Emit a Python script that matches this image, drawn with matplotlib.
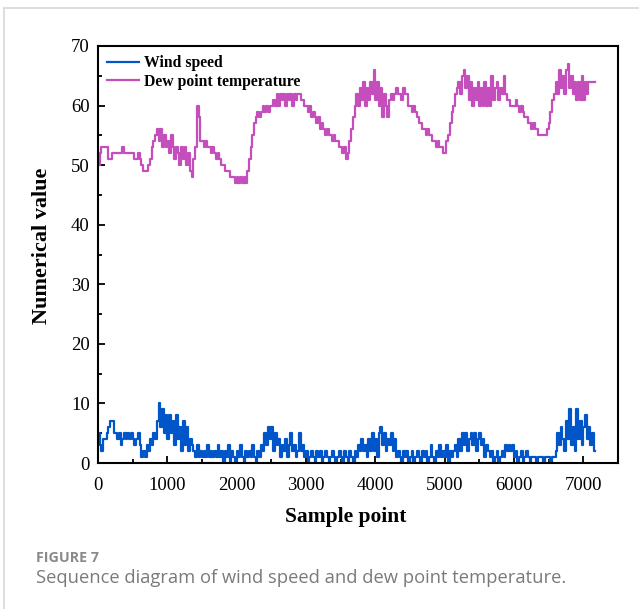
import numpy as np
import matplotlib
matplotlib.use("Agg")
import matplotlib.pyplot as plt
from matplotlib.lines import Line2D
from matplotlib.ticker import MultipleLocator

# Sample index of each reading (one value every 25 samples)
STEP = 25

# Dew point temperature readings, 20 per row (500 samples per row)
dew_point = [
    50, 52, 53, 53, 53, 53, 51, 51, 52, 52, 52, 52, 52, 52, 53, 52, 52, 52, 52, 52,
    52, 51, 51, 52, 51, 50, 49, 49, 49, 50, 51, 53, 54, 55, 56, 54, 56, 53, 55, 53,
    54, 52, 55, 53, 51, 53, 52, 50, 53, 51, 53, 50, 52, 49, 48, 51, 53, 60, 58, 54,
    54, 53, 54, 53, 53, 52, 53, 52, 51, 52, 51, 50, 50, 49, 49, 49, 48, 48, 48, 47,
    48, 47, 48, 47, 48, 47, 49, 51, 53, 55, 57, 58, 59, 58, 59, 60, 59, 60, 59, 60,
    60, 61, 60, 62, 60, 62, 61, 62, 60, 62, 61, 62, 60, 62, 61, 62, 62, 61, 61, 60,
    60, 59, 60, 58, 59, 58, 57, 58, 56, 57, 56, 55, 56, 55, 55, 54, 55, 54, 54, 53,
    53, 52, 53, 51, 52, 54, 56, 58, 60, 62, 60, 63, 61, 64, 60, 63, 61, 64, 62, 66,
    61, 64, 60, 63, 58, 62, 60, 58, 61, 62, 61, 62, 63, 62, 62, 61, 63, 62, 62, 60,
    60, 59, 60, 59, 58, 57, 57, 56, 56, 55, 56, 55, 55, 54, 54, 53, 54, 53, 53, 52,
    52, 54, 55, 57, 59, 60, 62, 63, 64, 62, 65, 66, 63, 65, 61, 64, 60, 63, 61, 64,
    60, 63, 60, 64, 60, 63, 60, 65, 61, 63, 64, 61, 63, 62, 65, 62, 61, 61, 60, 60,
    60, 61, 60, 59, 60, 59, 58, 58, 57, 57, 56, 57, 56, 56, 55, 55, 55, 55, 55, 56,
    57, 59, 61, 62, 64, 62, 66, 63, 65, 62, 66, 67, 63, 65, 62, 64, 61, 64, 61, 65,
    61, 64, 62, 64, 64, 64, 64, 64,
]

# Wind speed readings on the same sample grid
wind_speed = [
    5, 3, 2, 4, 4, 5, 6, 7, 7, 5, 5, 4, 5, 3, 4, 5, 4, 5, 4, 5,
    4, 3, 4, 5, 3, 1, 2, 1, 3, 2, 4, 3, 5, 4, 7, 10, 6, 9, 5, 8,
    4, 8, 5, 7, 3, 8, 4, 6, 2, 7, 3, 6, 2, 4, 3, 2, 1, 3, 1, 2,
    1, 2, 1, 3, 1, 2, 1, 2, 1, 3, 1, 2, 0, 2, 1, 3, 0, 2, 1, 0,
    2, 1, 3, 1, 0, 2, 1, 2, 1, 3, 1, 0, 2, 1, 3, 2, 5, 3, 6, 4,
    6, 2, 5, 3, 4, 1, 3, 2, 4, 1, 3, 5, 2, 3, 1, 2, 5, 2, 3, 1,
    2, 0, 1, 2, 1, 0, 2, 1, 2, 0, 1, 2, 1, 0, 1, 2, 1, 0, 1, 2,
    1, 0, 2, 1, 0, 2, 1, 0, 2, 1, 3, 2, 4, 2, 3, 1, 4, 2, 5, 2,
    4, 1, 5, 6, 3, 5, 2, 4, 3, 5, 2, 4, 1, 2, 1, 0, 2, 1, 2, 0,
    1, 2, 0, 1, 2, 1, 0, 2, 1, 2, 0, 1, 3, 1, 0, 2, 1, 3, 1, 2,
    1, 3, 0, 2, 1, 2, 3, 1, 4, 2, 5, 3, 5, 2, 4, 5, 3, 5, 2, 4,
    5, 3, 4, 1, 3, 2, 1, 2, 0, 1, 2, 0, 1, 2, 1, 3, 2, 3, 2, 3,
    1, 2, 0, 1, 2, 0, 1, 2, 1, 0, 1, 1, 1, 0, 1, 1, 1, 0, 1, 1,
    1, 0, 1, 1, 2, 5, 3, 6, 4, 2, 7, 4, 9, 3, 6, 2, 9, 4, 7, 3,
    6, 8, 4, 6, 3, 5, 2, 2,
]

sample = np.arange(len(dew_point)) * STEP

plt.rcParams["font.family"] = ["Liberation Serif", "DejaVu Serif"]

fig = plt.figure(figsize=(6.39, 6.09), dpi=100)
ax = fig.add_axes([0.1534, 0.2397, 0.8136, 0.6848])

ax.plot(sample, wind_speed, drawstyle="steps-post", color="#0056c8", lw=1.6, label="Wind speed")
ax.plot(sample, dew_point, drawstyle="steps-post", color="#c44fbc", lw=1.6, label="Dew point temperature")

ax.set_xlim(0, 7500)
ax.set_ylim(0, 70)
ax.xaxis.set_major_locator(MultipleLocator(1000))
ax.xaxis.set_minor_locator(MultipleLocator(500))
ax.yaxis.set_major_locator(MultipleLocator(10))
ax.yaxis.set_minor_locator(MultipleLocator(5))
ax.tick_params(which="both", direction="in", top=False, right=False, width=1.3, labelsize=13.5)
ax.tick_params(which="major", length=5)
ax.tick_params(which="minor", length=3)
ax.tick_params(axis="x", pad=10)
ax.tick_params(axis="y", pad=6)
for sp in ax.spines.values():
    sp.set_linewidth(1.5)

ax.set_xlabel("Sample point", fontsize=15.5, fontweight="bold")
ax.xaxis.set_label_coords(0.477, -0.105)
ax.set_ylabel("Numerical value", fontsize=16, fontweight="bold")
ax.yaxis.set_label_coords(-0.088, 0.52)

leg = ax.legend(loc="upper left", frameon=False, prop={"weight": "bold", "size": 11.3},
                handlelength=2.0, handletextpad=0.35, labelspacing=0.15,
                borderaxespad=0.2, bbox_to_anchor=(0.0, 1.0))

# light page frame around the figure
fig.add_artist(Line2D([0.006, 1.0], [0.987, 0.987], color="#d8d8d8", lw=1.2))
fig.add_artist(Line2D([0.006, 0.006], [0.0, 0.987], color="#d8d8d8", lw=1.2))

fig.text(0.056, 0.077, "FIGURE 7", family="Open Sans", fontweight="bold",
         fontsize=10.3, color="#8a8a8a")
fig.text(0.056, 0.043, "Sequence diagram of wind speed and dew point temperature.",
         family="Open Sans", fontsize=13.2, color="#7a7a7a")

fig.savefig("out.png", dpi=100)
